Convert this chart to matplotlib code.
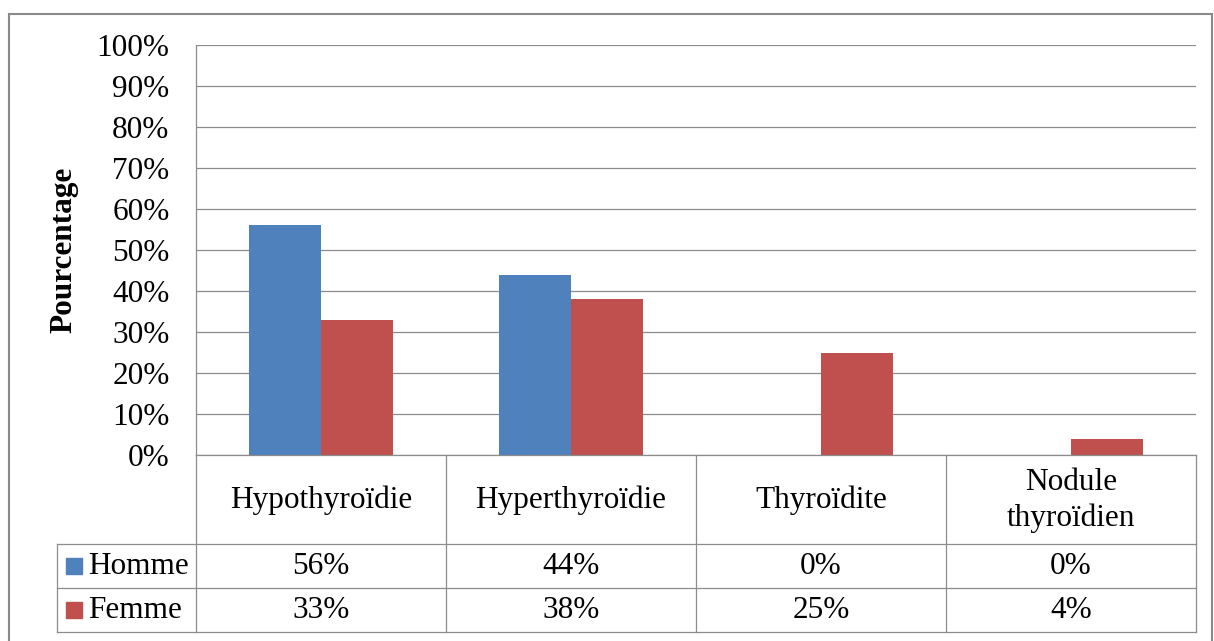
import numpy as np
import matplotlib.pyplot as plt
from matplotlib.patches import Rectangle

categories = ["Hypothyroïdie", "Hyperthyroïdie", "Thyroïdite", "Nodule\nthyroïdien"]
series = ["Homme", "Femme"]
homme = [56, 44, 0, 0]
femme = [33, 38, 25, 4]
yticks = [0, 10, 20, 30, 40, 50, 60, 70, 80, 90, 100]

colors = ["#4F81BD", "#C0504D"]
grid_c = "#8C8C8C"
W, H = 1214, 641
plt.rcParams['font.family'] = ['Liberation Serif', 'DejaVu Serif']
fs = 22.5

fig = plt.figure(figsize=(W / 100, H / 100), dpi=100)

def fx(px):
    return px / W

def fy(py):
    return 1 - py / H

# outer chart frame
fig.patches.append(Rectangle((fx(9), fy(660)), fx(1203), 646 / H, transform=fig.transFigure,
                             fill=False, edgecolor="#8A8A8A", lw=1.5))

# plot area
ax = fig.add_axes([fx(196), fy(455), fx(1000), (455 - 45) / H])
x = np.arange(len(categories))
bw = 0.288
vals = [homme, femme]
for i, v in enumerate(vals):
    ax.bar(x + (i - 0.5) * bw, v, bw, color=colors[i], zorder=3)
ax.set_xlim(-0.5, len(categories) - 0.5)
ax.set_ylim(0, 100)
ax.set_yticks(yticks)
ax.set_yticklabels([f"{t}%" for t in yticks], fontsize=fs)
ax.set_xticks([])
ax.tick_params(axis='y', length=0, pad=19)
ax.grid(axis='y', color=grid_c, lw=0.9, zorder=0)
for s in ["top", "right", "bottom"]:
    ax.spines[s].set_visible(False)
ax.spines["left"].set_color(grid_c)
ax.spines["left"].set_linewidth(0.9)
ax.set_ylabel("Pourcentage", fontsize=fs, fontweight="bold", labelpad=13)

# data table below the plot
left_ext = 139 / 250
tx = fig.add_axes([fx(57), fy(632), fx(1196 - 57), (632 - 455) / H])
tx.set_xlim(-0.5 - left_ext, len(categories) - 0.5)
tx.set_ylim(632, 455)
tx.axis("off")
rows = [455, 544, 588, 632]
kw = dict(color=grid_c, lw=0.9, clip_on=False)
tx.plot([-0.5, len(categories) - 0.5], [rows[0], rows[0]], **kw)
for r in rows[1:]:
    tx.plot([-0.5 - left_ext, len(categories) - 0.5], [r, r], **kw)
for b in np.arange(len(categories) + 1) - 0.5:
    tx.plot([b, b], [rows[0], rows[-1]], **kw)
tx.plot([-0.5 - left_ext] * 2, [rows[1], rows[-1]], **kw)

for j, c in enumerate(categories):
    tx.text(j, (rows[0] + rows[1]) / 2 + 1, c, ha="center", va="center", fontsize=fs, linespacing=1.3)
for i, (name, v) in enumerate(zip(series, vals)):
    yc = (rows[i + 1] + rows[i + 2]) / 2
    for j, val in enumerate(v):
        tx.text(j, yc, f"{val}%", ha="center", va="center", fontsize=fs)
    tx.add_patch(Rectangle((-0.5 - left_ext + 9 / 250, yc - 8), 16 / 250, 16,
                           color=colors[i], clip_on=False))
    tx.text(-0.5 - left_ext + 31 / 250, yc, name, ha="left", va="center", fontsize=fs)

fig.savefig("out.png", dpi=100)
